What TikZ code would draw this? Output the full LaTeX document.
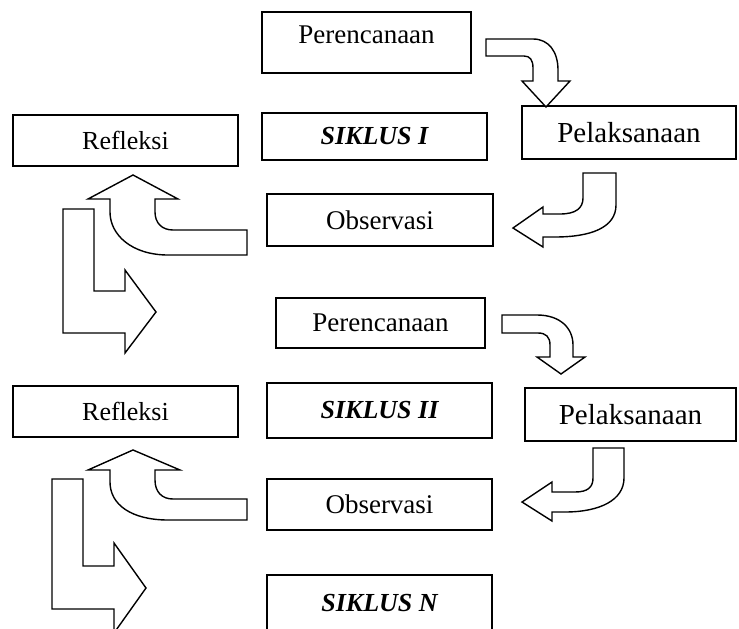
\documentclass[tikz,border=0pt]{standalone}
\usepackage{fontspec}
\setmainfont{Liberation Serif}

\begin{document}
\begin{tikzpicture}[x=1pt,y=-1pt,
  font=\fontsize{27}{31}\selectfont,
  kotak/.style={draw,line width=1.5pt,inner sep=0pt,align=center},
  sik/.style={kotak,font=\fontsize{26}{30}\selectfont\bfseries\itshape},
  pel/.style={kotak,font=\fontsize{29}{33}\selectfont},
  ref/.style={kotak,font=\fontsize{26}{30}\selectfont},
  panah/.style={draw,fill=white,line width=1.4pt,line join=miter}]
\useasboundingbox (0,0) rectangle (739,629);
% siklus I
\node[kotak,minimum width=209pt,minimum height=61pt,text height=18pt,text depth=16pt] (ren1) at (366.5,42.5) {Perencanaan};
\node[sik,minimum width=225pt,minimum height=47pt] (sik1) at (374.5,136.5) {SIKLUS I};
\node[kotak,minimum width=226pt,minimum height=52pt] (obs1) at (380,220) {Observasi};
\node[pel,minimum width=214pt,minimum height=53pt] (pel1) at (629,132.5) {Pelaksanaan};
\node[ref,minimum width=225pt,minimum height=51pt] (ref1) at (125.5,140.5) {Refleksi};
% siklus II
\node[kotak,minimum width=209pt,minimum height=50pt] (ren2) at (380.5,323) {Perencanaan};
\node[sik,minimum width=225pt,minimum height=55pt] (sik2) at (379.5,410.5) {SIKLUS II};
\node[kotak,minimum width=225pt,minimum height=51pt] (obs2) at (379.5,504.5) {Observasi};
\node[pel,minimum width=211pt,minimum height=53pt] (pel2) at (630.5,414.5) {Pelaksanaan};
\node[ref,minimum width=225pt,minimum height=51pt] (ref2) at (125.5,411.5) {Refleksi};
\node[sik,minimum width=225pt,minimum height=57pt] (sikN) at (379.5,603.5) {SIKLUS N};
% panah siklus I
\draw[panah] (486,39) -- (533,39) .. controls (549,39) and (558,52) .. (558,70) -- (558,81)
  -- (570,81) -- (546,107) -- (522,81) -- (533,81) -- (533,68) .. controls (533,60) and (530,56) .. (524,56)
  -- (486,56) -- cycle;
\draw[panah] (583,173) -- (616,173) -- (616,205) .. controls (616,228) and (590,237) .. (555,237)
  -- (543,237) -- (543,247) -- (513,228) -- (543,207) -- (543,214) -- (560,214)
  .. controls (576,214) and (583,208) .. (583,198) -- cycle;
\draw[panah] (247,230) -- (247,255) -- (168,255) .. controls (132,255) and (110,235) .. (110,212)
  -- (110,199) -- (88,199) -- (133,175) -- (178,199) -- (155,199) -- (155,212)
  .. controls (155,223) and (162,230) .. (173,230) -- cycle;
\draw[panah] (63,209) -- (94,209) -- (94,291) -- (125,291) -- (125,270) -- (156,312) -- (125,353)
  -- (125,333) -- (63,333) -- cycle;
% panah siklus II
\draw[panah] (502,315) -- (537,315) .. controls (560,315) and (573,328) .. (573,345) -- (573,357)
  -- (585,357) -- (561,374) -- (537,357) -- (550,357) -- (550,345) .. controls (550,337) and (546,333) .. (538,333)
  -- (502,333) -- cycle;
\draw[panah] (593,448) -- (624,448) -- (624,478) .. controls (624,500) and (600,512) .. (565,512)
  -- (552,512) -- (552,521) -- (522,502) -- (552,482) -- (552,492) -- (575,492)
  .. controls (588,492) and (593,487) .. (593,478) -- cycle;
\draw[panah] (247,499) -- (247,520) -- (168,520) .. controls (132,520) and (110,505) .. (110,482)
  -- (110,470) -- (88,470) -- (133,450) -- (180,470) -- (155,470) -- (155,480)
  .. controls (155,492) and (162,499) .. (173,499) -- cycle;
\draw[panah] (52,479) -- (83,479) -- (83,566) -- (114,566) -- (114,543) -- (146,588) -- (114,633)
  -- (114,609) -- (52,609) -- cycle;
\end{tikzpicture}
\end{document}
